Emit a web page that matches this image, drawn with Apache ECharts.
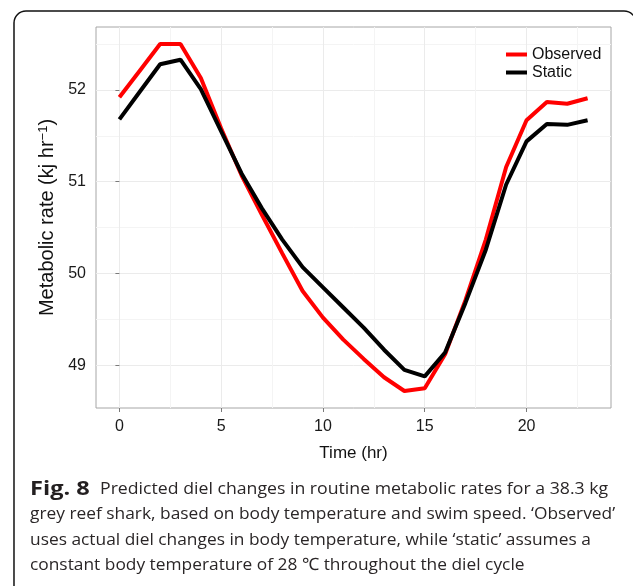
<!DOCTYPE html>
<html><head><meta charset="utf-8">
<script src="https://cdn.jsdelivr.net/npm/echarts@6/dist/echarts.min.js"></script>
<style>html,body{margin:0;padding:0;background:#fff}#c{width:633px;height:586px}</style>
</head><body><div id="c"></div>
<script>
const hours = [0,1,2,3,4,5,6,7,8,9,10,11,12,13,14,15,16,17,18,19,20,21,22,23];
const observed = [51.92,52.21,52.50,52.50,52.13,51.58,51.07,50.64,50.22,49.81,49.52,49.28,49.07,48.87,48.72,48.75,49.12,49.71,50.37,51.16,51.67,51.87,51.85,51.91];
const staticRate = [51.68,51.98,52.28,52.33,52.01,51.55,51.09,50.71,50.37,50.07,49.85,49.63,49.41,49.17,48.95,48.88,49.14,49.68,50.26,50.97,51.44,51.63,51.62,51.67];
const seriesNames = ['Observed','Static'];
const xTicks = [0,5,10,15,20];
const xMinor = [2.5,7.5,12.5,17.5,22.5];
const yTicks = [49,50,51,52];
const yMinor = [49.5,50.5,51.5,52.5];
const xTitle = 'Time (hr)';
const figLabel = 'Fig. 8';
const captionLines = [
  'Predicted diel changes in routine metabolic rates for a 38.3 kg',
  'grey reef shark, based on body temperature and swim speed. \u2018Observed\u2019',
  'uses actual diel changes in body temperature, while \u2018static\u2019 assumes a',
  'constant body temperature of 28 \u2103 throughout the diel cycle'
];

const FF = 'Liberation Sans, Arial, Helvetica, sans-serif';
const CF = 'Open Sans, Noto Sans, sans-serif';
const X_MIN = -1.15, X_MAX = 24.15, Y_MIN = 48.535, Y_MAX = 52.686;

const chart = echarts.init(document.getElementById('c'), null, {renderer:'canvas'});

const capY = [489, 514.5, 540, 565.5];
const capX = [100, 30, 30, 30];
const capScale = [1.04, 1.02, 1.02, 1.02];
const graphics = [{
  type:'rect', shape:{x:14, y:11, width:622, height:592, r:12},
  style:{fill:'none', stroke:'#111', lineWidth:1.5}, silent:true, z:0
},{
  type:'text', x:30, y:capY[0], scaleX:1.18, silent:true,
  style:{text:figLabel, font:'bold 20px ' + CF, fill:'#231f20', verticalAlign:'middle', align:'left'}
}];
captionLines.forEach((t,i)=>{
  graphics.push({
    type:'text', x:capX[i], y:capY[i], silent:true, scaleX:capScale[i],
    style:{text:t, font:'17px ' + CF, fill:'#2a2627', verticalAlign:'middle', align:'left'}
  });
});

const tickCol = '#7a7a7a';
chart.setOption({
  animation:false,
  grid:{left:96, right:22, top:27, bottom:178, show:true, borderColor:'#a6a6a6', borderWidth:1, containLabel:false},
  legend:{
    data:seriesNames, orient:'vertical', left:506, top:46, padding:0, itemGap:1,
    icon:'rect', itemWidth:21, itemHeight:4,
    textStyle:{fontSize:16, fontFamily:FF, color:'#111', lineHeight:17}
  },
  xAxis:[{
    type:'value', min:X_MIN, max:X_MAX, position:'bottom',
    axisLine:{show:false},
    axisTick:{show:true, customValues:xTicks, length:4, lineStyle:{color:tickCol}},
    axisLabel:{customValues:xTicks, margin:11, fontSize:16, fontFamily:FF, color:'#1a1a1a'},
    splitLine:{show:true, lineStyle:{color:'#ebebeb', width:1}},
    name:xTitle, nameLocation:'middle', nameGap:37,
    nameTextStyle:{fontSize:17, fontFamily:FF, color:'#111'}
  },{
    type:'value', min:X_MIN, max:X_MAX, position:'bottom',
    axisLine:{show:false}, axisLabel:{show:false},
    axisTick:{show:false, customValues:xMinor},
    splitLine:{show:true, lineStyle:{color:'#f4f4f4', width:1}}
  }],
  yAxis:[{
    type:'value', min:Y_MIN, max:Y_MAX, position:'left',
    axisLine:{show:false},
    axisTick:{show:true, customValues:yTicks, length:4, lineStyle:{color:tickCol}},
    axisLabel:{customValues:yTicks, margin:10, fontSize:16, fontFamily:FF, color:'#1a1a1a'},
    splitLine:{show:true, lineStyle:{color:'#ebebeb', width:1}},
    name:'{t|Metabolic rate (kj hr}{s|\u22121}{t|)}', nameLocation:'middle', nameGap:38,
    nameTextStyle:{rich:{
      t:{fontSize:20, fontFamily:FF, color:'#111', verticalAlign:'bottom'},
      s:{fontSize:13, fontFamily:FF, color:'#111', verticalAlign:'top'}
    }}
  },{
    type:'value', min:Y_MIN, max:Y_MAX, position:'left',
    axisLine:{show:false}, axisLabel:{show:false},
    axisTick:{show:false, customValues:yMinor},
    splitLine:{show:true, lineStyle:{color:'#f4f4f4', width:1}}
  }],
  series:[{
    name:seriesNames[0], type:'line', xAxisIndex:0, yAxisIndex:0,
    data:hours.map((h,i)=>[h, observed[i]]), showSymbol:false, symbol:'none',
    lineStyle:{color:'#ff0000', width:4}, itemStyle:{color:'#ff0000'}, z:3
  },{
    name:seriesNames[1], type:'line', xAxisIndex:0, yAxisIndex:0,
    data:hours.map((h,i)=>[h, staticRate[i]]), showSymbol:false, symbol:'none',
    lineStyle:{color:'#000000', width:4}, itemStyle:{color:'#000000'}, z:4
  }],
  graphic:graphics
});
</script></body></html>
